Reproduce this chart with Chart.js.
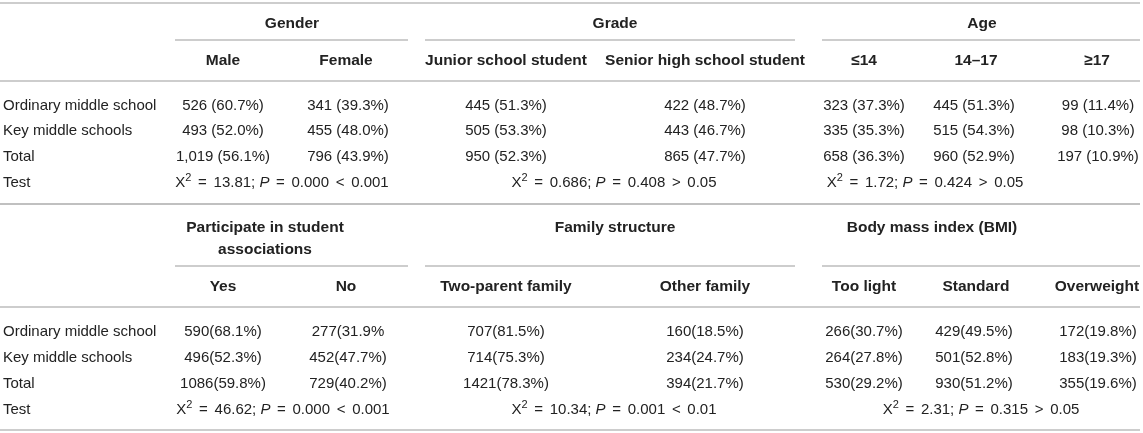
<!DOCTYPE html>
<html>
<head>
<meta charset="utf-8">
<script src="https://cdn.jsdelivr.net/npm/chart.js@4.4.1/dist/chart.umd.min.js"></script>
<style>
  html, body { margin: 0; padding: 0; background: #fff; }
  #wrap { width: 1143px; height: 433px; position: relative; }
</style>
</head>
<body>
<div id="wrap"><canvas id="tbl"></canvas></div>
<script>
// Row stubs shared by both halves of the table
const rowLabels = ['Ordinary middle school', 'Key middle schools', 'Total', 'Test'];

// Upper half: gender / grade / age
const groupsTop = ['Gender', 'Grade', 'Age'];
const subTop = ['Male', 'Female', 'Junior school student', 'Senior high school student', '≤14', '14–17', '≥17'];
const countsTop = [
  [526, 341, 445, 422, 323, 445, 99],
  [493, 455, 505, 443, 335, 515, 98],
  [1019, 796, 950, 865, 658, 960, 197],
];
const pctsTop = [
  [60.7, 39.3, 51.3, 48.7, 37.3, 51.3, 11.4],
  [52.0, 48.0, 53.3, 46.7, 35.3, 54.3, 10.3],
  [56.1, 43.9, 52.3, 47.7, 36.3, 52.9, 10.9],
];
const chiTop = [13.81, 0.686, 1.72];
const pTop = [0.000, 0.408, 0.424];
const cmpTop = ['<', '>', '>'];
const alphaTop = [0.001, 0.05, 0.05];

// Lower half: associations / family / BMI
const groupsBottom = ['Participate in student\nassociations', 'Family structure', 'Body mass index (BMI)'];
const subBottom = ['Yes', 'No', 'Two-parent family', 'Other family', 'Too light', 'Standard', 'Overweight'];
const countsBottom = [
  [590, 277, 707, 160, 266, 429, 172],
  [496, 452, 714, 234, 264, 501, 183],
  [1086, 729, 1421, 394, 530, 930, 355],
];
const pctsBottom = [
  [68.1, 31.9, 81.5, 18.5, 30.7, 49.5, 19.8],
  [52.3, 47.7, 75.3, 24.7, 27.8, 52.8, 19.3],
  [59.8, 40.2, 78.3, 21.7, 29.2, 51.2, 19.6],
];
const chiBottom = [46.62, 10.34, 2.31];
const pBottom = [0.000, 0.001, 0.315];
const cmpBottom = ['<', '<', '>'];
const alphaBottom = [0.001, 0.01, 0.05];
// the source prints "277(31.9%" without its closing bracket
const openCells = ['0,1'];

// ---- layout (design units = px of the 1143x433 page); y values are cap-height centres ----
const stubX = 3;
const cellX = [223, 348, 506, 705, 864, 974, 1098];
const headX = [223, 346, 506, 705, 864, 976, 1097];
const groupSpan = [[175, 408], [425, 795], [822, 1140]];
const halves = [
  { top: 3, group: 23, groupRule: 40, sub: 60, rule: 81, rows: [105, 130, 156, 182], bottom: 204,
    groupX: [292, 615, 982], testX: [282, 614, 925] },
  { top: 204, group: 227, groupRule: 266, sub: 286, rule: 307, rows: [331, 357, 383, 409], bottom: 430,
    groupX: [265, 615, 932], testX: [283, 614, 981] },
];
const lineGap = 22;

const FONT = '"Liberation Sans", Arial, sans-serif';
const SIZE = 15;
const BOLD_SIZE = 15.5;
const CAP = 0.36;      // half cap height, em
const OP_PAD = 2.5;    // extra room either side of = < >
const INK = '#222222';
const RULE = '#bdbdbd';

function fmtTop(n, p) { return n.toLocaleString('en-US') + ' (' + p.toFixed(1) + '%)'; }
function fmtBottom(n, p, open) { return n + '(' + p.toFixed(1) + '%' + (open ? '' : ')'); }

function testSegs(chi, p, cmp, alpha) {
  return [
    { t: 'X' }, { t: '2', sup: true }, { t: ' ' }, { t: '=', pad: OP_PAD }, { t: ' ' + chi + '; ' },
    { t: 'P', italic: true }, { t: ' ' }, { t: '=', pad: OP_PAD }, { t: ' ' + p.toFixed(3) + ' ' },
    { t: cmp, pad: OP_PAD }, { t: ' ' + alpha },
  ];
}

// build cell points and rules
const cells = [];
const rules = [];
function hRule(x1, x2, y) { rules.push([{ x: x1, y }, { x: x2, y }]); }

const parts = [
  { groups: groupsTop, subs: subTop, counts: countsTop,
    fmt: (r, c) => fmtTop(countsTop[r][c], pctsTop[r][c]),
    chi: chiTop, p: pTop, cmp: cmpTop, alpha: alphaTop },
  { groups: groupsBottom, subs: subBottom, counts: countsBottom,
    fmt: (r, c) => fmtBottom(countsBottom[r][c], pctsBottom[r][c], openCells.includes(r + ',' + c)),
    chi: chiBottom, p: pBottom, cmp: cmpBottom, alpha: alphaBottom },
];

parts.forEach((part, h) => {
  const L = halves[h];
  hRule(0, 1140, L.top);
  hRule(0, 1140, L.rule);
  hRule(0, 1140, L.bottom);
  part.groups.forEach((g, gi) => {
    g.split('\n').forEach((line, li) => {
      cells.push({ x: L.groupX[gi], y: L.group + li * lineGap, text: line, bold: true, align: 'center' });
    });
    hRule(groupSpan[gi][0], groupSpan[gi][1], L.groupRule);
  });
  part.subs.forEach((s, c) => cells.push({ x: headX[c], y: L.sub, text: s, bold: true, align: 'center' }));
  rowLabels.forEach((lab, r) => {
    cells.push({ x: stubX, y: L.rows[r], text: lab, align: 'left' });
    if (r < 3) {
      part.counts[r].forEach((_, c) => cells.push({ x: cellX[c], y: L.rows[r], text: part.fmt(r, c), align: 'center' }));
    }
  });
  part.chi.forEach((chi, k) => {
    cells.push({ x: L.testX[k], y: L.rows[3], segs: testSegs(chi, part.p[k], part.cmp[k], part.alpha[k]), align: 'center' });
  });
});

function fontFor(seg, bold) {
  const size = seg.sup ? Math.round(SIZE * 0.7) : (bold ? BOLD_SIZE : SIZE);
  return (seg.italic ? 'italic ' : '') + (bold ? 'bold ' : '') + size + 'px ' + FONT;
}

const cellText = {
  id: 'cellText',
  afterDatasetsDraw(chart) {
    const ctx = chart.ctx;
    const meta = chart.getDatasetMeta(chart.data.datasets.length - 1);
    ctx.save();
    ctx.fillStyle = INK;
    ctx.textBaseline = 'alphabetic';
    ctx.textAlign = 'left';
    meta.data.forEach((el, i) => {
      const raw = cells[i];
      const segs = raw.segs || [{ t: raw.text }];
      let w = 0;
      segs.forEach(s => {
        ctx.font = fontFor(s, raw.bold);
        s.w = ctx.measureText(s.t).width + 2 * (s.pad || 0);
        w += s.w;
      });
      let x = raw.align === 'center' ? el.x - w / 2 : el.x;
      const base = el.y + SIZE * CAP;
      segs.forEach(s => {
        ctx.font = fontFor(s, raw.bold);
        ctx.fillText(s.t, x + (s.pad || 0), s.sup ? base - SIZE * 0.42 : base);
        x += s.w;
      });
    });
    ctx.restore();
  }
};

const datasets = rules.map(pts => ({
  type: 'line', data: pts, borderColor: RULE, borderWidth: 1.5, pointRadius: 0, fill: false, tension: 0,
}));
datasets.push({ type: 'scatter', data: cells, pointRadius: 0, pointHoverRadius: 0 });

new Chart(document.getElementById('tbl'), {
  type: 'scatter',
  data: { datasets },
  options: {
    responsive: true,
    maintainAspectRatio: false,
    animation: false,
    events: [],
    layout: { padding: 0 },
    plugins: { legend: { display: false }, tooltip: { enabled: false } },
    scales: {
      x: { type: 'linear', min: 0, max: 1143, display: false },
      y: { type: 'linear', min: 0, max: 433, reverse: true, display: false },
    },
  },
  plugins: [cellText],
});
</script>
</body>
</html>
